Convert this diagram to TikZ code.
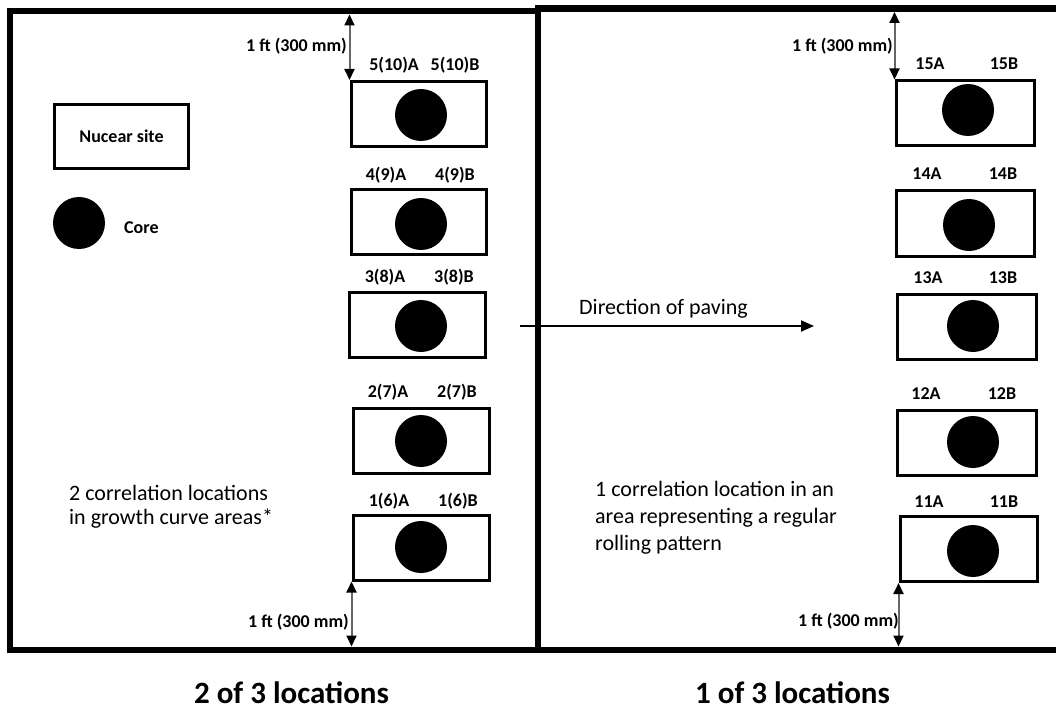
\documentclass[tikz,border=0pt]{standalone}
\usepackage{fontspec}
\setmainfont{Carlito}
\usetikzlibrary{arrows.meta}

\tikzset{
  frame/.style={line width=6.5pt},
  sample/.style={draw, rectangle, line width=3pt, inner sep=0pt,
                 minimum width=135pt, minimum height=65pt},
  core/.style={circle, fill=black, inner sep=0pt, minimum size=52pt},
  tag/.style={font=\bfseries\fontsize{18}{20}\selectfont, inner sep=0pt, anchor=base},
  dimtext/.style={font=\bfseries\fontsize{18}{20}\selectfont, inner sep=0pt, anchor=base east},
  note/.style={font=\fontsize{22}{26}\selectfont, inner sep=0pt, anchor=base west},
  title/.style={font=\bfseries\fontsize{31}{34}\selectfont, inner sep=0pt, anchor=base},
  dimarrow/.style={draw=black!60, line width=2pt,
    {Triangle[length=11pt,width=10pt,color=black]}-{Triangle[length=11pt,width=10pt,color=black]}},
  paving/.style={draw=black, line width=2pt,
    -{Triangle[length=13pt,width=11pt,color=black]}}
}

\begin{document}
\begin{tikzpicture}[x=1pt,y=-1pt]
\useasboundingbox (0,0) rectangle (1056,711);

% outer frames of the two paved sections
\draw[frame] (10,11) rectangle (538,650);
\draw[frame] (1062,8.5) -- (538,8.5) -- (538,650) -- (1062,650);
\coordinate (ltop) at (0,14.5);
\coordinate (lbot) at (0,646.5);
\coordinate (rtop) at (0,12);
\coordinate (rbot) at (0,646.5);

% legend
\node[sample, minimum width=134pt, minimum height=64pt,
      font=\bfseries\fontsize{18}{20}\selectfont] (legsite) at (121.5,136.5) {Nucear site};
\node[core] (legcore) at (79,223) {};
\node[tag, anchor=base west] (legcoretext) at (124,233.5) {Core};

% left section: sample sites 1(6) to 5(10)
\node[sample] (l5) at (418.5,114) {};
\node[sample] (l4) at (418.5,222) {};
\node[sample, minimum width=136pt] (l3) at (417,324.5) {};
\node[sample, minimum width=136pt] (l2) at (421,441) {};
\node[sample, minimum width=136pt] (l1) at (421,547.5) {};

\node[core] (c5) at (421,115) {};
\node[core] (c4) at (421,224) {};
\node[core] (c3) at (421,326) {};
\node[core] (c2) at (421,441) {};
\node[core] (c1) at (421,547) {};

\node[tag] (t5a) at (394,71) {5(10)A};
\node[tag] (t5b) at (455,71) {5(10)B};
\node[tag] (t4a) at (386,181) {4(9)A};
\node[tag] (t4b) at (455,181) {4(9)B};
\node[tag] (t3a) at (385,282) {3(8)A};
\node[tag] (t3b) at (454,282) {3(8)B};
\node[tag] (t2a) at (388,397) {2(7)A};
\node[tag] (t2b) at (457,397) {2(7)B};
\node[tag] (t1a) at (389,506) {1(6)A};
\node[tag] (t1b) at (458,506) {1(6)B};

% right section: sample sites 11 to 15
\node[sample, minimum width=138pt] (r15) at (965,113.5) {};
\node[sample, minimum width=138pt] (r14) at (965.5,223.5) {};
\node[sample, minimum width=139pt] (r13) at (966.5,326.5) {};
\node[sample, minimum width=139pt] (r12) at (966.5,442.5) {};
\node[sample, minimum width=137pt] (r11) at (968.5,549) {};

\node[core] (c15) at (968,110) {};
\node[core] (c14) at (969,225) {};
\node[core] (c13) at (973,326) {};
\node[core] (c12) at (973,442) {};
\node[core] (c11) at (973,551) {};

\node[tag] (t15a) at (930,70) {15A};
\node[tag] (t15b) at (1004,70) {15B};
\node[tag] (t14a) at (927,180) {14A};
\node[tag] (t14b) at (1003,180) {14B};
\node[tag] (t13a) at (928,283) {13A};
\node[tag] (t13b) at (1003,283) {13B};
\node[tag] (t12a) at (926,399) {12A};
\node[tag] (t12b) at (1002,399) {12B};
\node[tag] (t11a) at (929,507) {11A};
\node[tag] (t11b) at (1004,507) {11B};

% 1 ft offsets from the section edges
\draw[dimarrow] (l5.north west |- ltop) -- (l5.north west);
\draw[dimarrow] (l1.south west) -- (l1.south west |- lbot);
\draw[dimarrow] (r15.north west |- rtop) -- (r15.north west);
\draw[dimarrow] (r11.south west) -- (r11.south west |- rbot);
\node[dimtext] (d1) at (347,52) {1 ft (300 mm)};
\node[dimtext] (d2) at (349,627) {1 ft (300 mm)};
\node[dimtext] (d3) at (893,52) {1 ft (300 mm)};
\node[dimtext] (d4) at (899,626) {1 ft (300 mm)};

% paving direction
\coordinate (pavefrom) at (520,326);
\coordinate (paveto) at (814,326);
\draw[paving] (pavefrom) -- (paveto);
\node[note] (pavetext) at (579,314.5) {Direction of paving};

% notes
\node[note] (nl1) at (69,500) {2 correlation locations};
\node[note] (nl2) at (69,524) {in growth curve areas*};
\node[note] (nr1) at (595,496) {1 correlation location in an};
\node[note] (nr2) at (595,523) {area representing a regular};
\node[note] (nr3) at (595,550) {rolling pattern};

% section titles
\node[title] (s1) at (291.5,703) {2 of 3 locations};
\node[title] (s2) at (792.5,703) {1 of 3 locations};
\end{tikzpicture}
\end{document}
